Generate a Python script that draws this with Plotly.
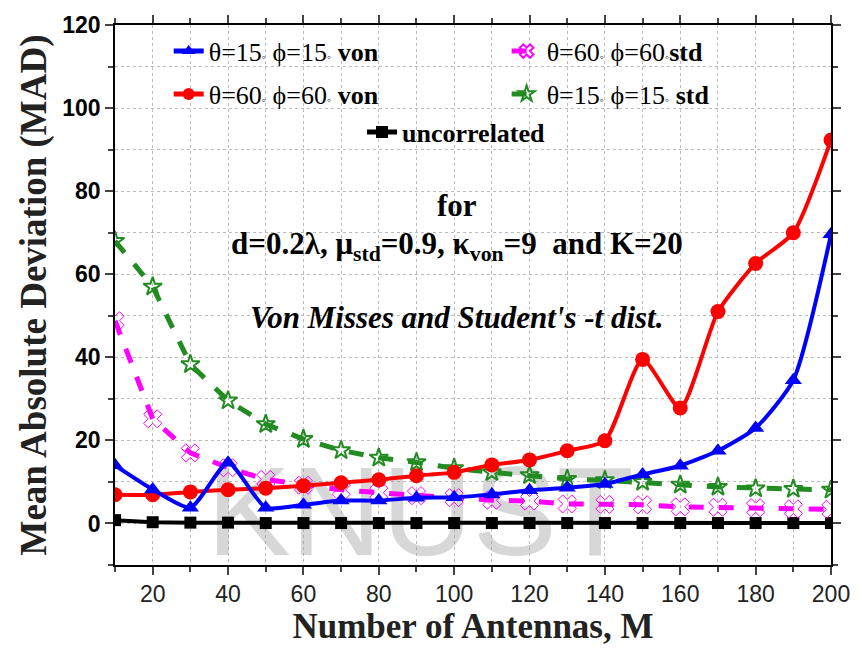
import plotly.graph_objects as go

M = [10, 20, 30, 40, 50, 60, 70, 80, 90, 100, 110, 120, 130, 140, 150, 160, 170, 180, 190, 200]
von15 = [14, 8.2, 3.8, 14.6, 3.8, 4.5, 5.5, 5.5, 6.2, 6.3, 7.0, 8.0, 8.6, 9.5, 11.8, 13.9, 17.5, 23, 34.5, 69.6]
von60 = [6.9, 6.9, 7.6, 8.1, 8.5, 9.1, 9.8, 10.5, 11.5, 12.3, 14.1, 15.3, 17.5, 19.9, 39.5, 27.8, 51, 62.6, 70, 92.3]
std60 = [48.8, 25.2, 17, 13.4, 10.6, 9.2, 8.1, 7.4, 6.7, 6.2, 5.6, 5.4, 4.7, 4.6, 4.5, 4.0, 3.9, 3.8, 3.5, 3.4]
std15 = [68, 57, 38.3, 29.6, 23.9, 20.3, 17.6, 15.8, 14.7, 13.3, 12.3, 11.6, 10.7, 10.4, 10.0, 9.3, 8.8, 8.4, 8.3, 8.1]
uncorr = [0.8, 0.3, 0.2, 0.2, 0.1, 0.1, 0.1, 0.1, 0.1, 0.1, 0.1, 0.1, 0.1, 0.1, 0.1, 0.1, 0.1, 0.1, 0.1, 0.1]

deg = "<span style='font-size:12px'>◦</span>"
names = {
    "von15": f"θ=15{deg} ϕ=15{deg} <b>von</b>",
    "von60": f"θ=60{deg} ϕ=60{deg} <b>von</b>",
    "std60": f"θ=60{deg} ϕ=60{deg}<b>std</b>",
    "std15": f"θ=15{deg} ϕ=15{deg} <b>std</b>",
    "unc": "<b>uncorrelated</b>",
}
SERIF = "Liberation Serif, Times New Roman, serif"

fig = go.Figure()
# faint watermark seen behind the reference plot
fig.add_trace(go.Scatter(x=[91], y=[0], mode="text", text=["KNUST"], showlegend=False,
                         cliponaxis=False, hoverinfo="skip",
                         textfont=dict(family="Liberation Sans", size=126, color="rgba(150,150,150,0.38)")))
fig.add_trace(go.Scatter(x=M, y=uncorr, name=names["unc"], mode="lines+markers", legendgroup="e",
                         line=dict(color="black", width=4),
                         marker=dict(symbol="square", size=12, color="black"), legend="legend3"))
fig.add_trace(go.Scatter(x=M, y=std15, name=names["std15"], mode="lines+markers", legendgroup="d",
                         legendrank=2,
                         line=dict(color="#228B22", width=5, dash="dash"),
                         marker=dict(symbol="star-open", size=14, color="#228B22", line=dict(width=2)),
                         legend="legend2"))
fig.add_trace(go.Scatter(x=M, y=std60, name=names["std60"], mode="lines+markers", legendgroup="c",
                         legendrank=1,
                         line=dict(color="#FF00FF", width=5, dash="dash"),
                         marker=dict(symbol="x-open", size=16, color="#FF00FF", line=dict(width=1)),
                         legend="legend2"))
fig.add_trace(go.Scatter(x=M, y=von60, name=names["von60"], mode="lines+markers", legendgroup="b",
                         legendrank=2,
                         line=dict(color="#FF0000", width=4, shape="spline", smoothing=0.6),
                         marker=dict(symbol="circle", size=15, color="#FF0000")))
fig.add_trace(go.Scatter(x=M, y=von15, name=names["von15"], mode="lines+markers", legendgroup="a",
                         legendrank=1,
                         line=dict(color="#0000FF", width=4, shape="spline", smoothing=0.6),
                         marker=dict(symbol="triangle-up", size=15, color="#0000FF")))

legfont = dict(family=SERIF, size=26, color="black")
common = dict(bgcolor="rgba(0,0,0,0)", font=legfont, itemsizing="constant", tracegroupgap=6,
              xanchor="left", yanchor="top", traceorder="grouped")
fig.update_layout(
    legend=dict(x=0.075, y=0.995, **common),
    legend2=dict(x=0.547, y=0.995, **common),
    legend3=dict(x=0.345, y=0.845, **common),
)

fig.update_xaxes(range=[10, 200], dtick=20, tick0=0, ticks="outside", ticklen=8, tickwidth=1.5,
                 showline=True, linecolor="black", linewidth=1.5, mirror="ticks",
                 showgrid=True, gridcolor="#bbbbbb", griddash="dot", gridwidth=1,
                 minor=dict(dtick=10, ticks="outside", ticklen=5, showgrid=True,
                            gridcolor="#bbbbbb", griddash="dot"),
                 tickfont=dict(family="Liberation Sans Narrow, Liberation Sans", size=23, color="#222"),
                 title=dict(text="<b>Number of Antennas, M</b>",
                            font=dict(family=SERIF, size=35, color="#222"), standoff=2),
                 zeroline=False)
fig.update_yaxes(range=[-10, 120], dtick=20, tick0=0, ticks="outside", ticklen=8, tickwidth=1.5,
                 showline=True, linecolor="black", linewidth=1.5, mirror="ticks",
                 showgrid=True, gridcolor="#bbbbbb", griddash="dot", gridwidth=1,
                 minor=dict(dtick=10, ticks="outside", ticklen=5, showgrid=True,
                            gridcolor="#bbbbbb", griddash="dot"),
                 tickfont=dict(family="Liberation Sans", size=23, color="black", weight="bold"),
                 title=dict(text="<b>Mean Absolute Deviation (MAD)</b>",
                            font=dict(family=SERIF, size=37, color="#222"), standoff=4),
                 zeroline=False)

ann_font = dict(family=SERIF, size=31, color="black")
fig.add_annotation(text="<b>for</b>", x=0.477, y=0.665, xref="paper", yref="paper", showarrow=False, font=ann_font)
fig.add_annotation(text="<b>d=0.2λ, μ<sub>std</sub>=0.9, κ<sub>von</sub>=9  and K=20</b>",
                   x=0.477, y=0.59, xref="paper", yref="paper", showarrow=False, font=ann_font)
fig.add_annotation(text="<b><i>Von Misses and Student's -t dist.</i></b>",
                   x=0.477, y=0.458, xref="paper", yref="paper", showarrow=False, font=ann_font)

fig.update_layout(width=862, height=649, margin=dict(l=115, r=24, t=18, b=84),
                  plot_bgcolor="white", paper_bgcolor="white", showlegend=True)
fig.write_html("out.html")
